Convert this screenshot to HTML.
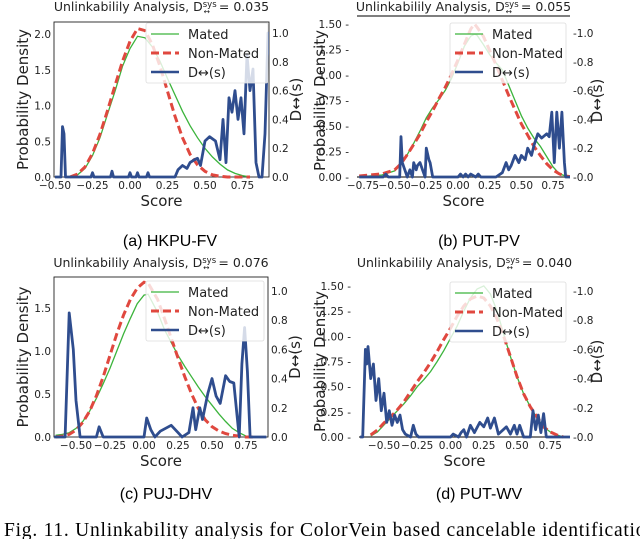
<!DOCTYPE html>
<html><head><meta charset="utf-8"><style>
html,body{margin:0;padding:0;background:#fff;}
svg{display:block;}
text{font-family:"DejaVu Sans","Liberation Sans",sans-serif;}
</style></head><body>
<svg id="fig" width="640" height="539" viewBox="0 0 640 539" xmlns="http://www.w3.org/2000/svg"></svg>
<script>
// ---------- Panel A: HKPU-FV ----------
const aDensX = [-0.4,-0.35,-0.3,-0.25,-0.2,-0.15,-0.1,-0.05,0,0.05,0.1,0.15,0.2,0.25,0.3,0.35,0.4,0.45,0.5,0.55,0.6,0.65,0.7,0.75,0.8];
const aMated = [0,0.03,0.12,0.3,0.55,0.88,1.2,1.55,1.8,1.97,1.95,1.82,1.62,1.38,1.15,0.92,0.72,0.55,0.4,0.28,0.18,0.1,0.05,0.02,0];
const aNonMated = [0,0.04,0.14,0.33,0.6,0.93,1.28,1.62,1.9,2.08,2.05,1.85,1.55,1.2,0.85,0.55,0.32,0.17,0.08,0.03,0.01,0,0,0,0];
const aDX = [-0.5,-0.46,-0.45,-0.44,-0.43,-0.26,-0.25,-0.24,-0.13,-0.12,-0.11,-0.01,0,0.01,0.04,0.05,0.06,0.11,0.12,0.13,0.3,0.32,0.35,0.38,0.4,0.43,0.45,0.47,0.5,0.53,0.57,0.6,0.62,0.64,0.66,0.68,0.7,0.72,0.74,0.76,0.78,0.8,0.82,0.84,0.86,0.88,0.9,0.92,0.94,0.95];
const aDY = [0,0,0.35,0.3,0,0,0.03,0,0,0.04,0,0,0.03,0,0,0.03,0,0,0.03,0,0,0.05,0.08,0.06,0.1,0.12,0.13,0.08,0.25,0.28,0.25,0.12,0.4,0.1,0.55,0.45,0.6,0.4,0.55,0.3,0.85,0.6,0.75,0.1,0,0,0.3,1.0,0.8,0];
const aXTicks = [-0.5,-0.25,0,0.25,0.5,0.75];
const aXTickLabels = ["−0.50","−0.25","0.00","0.25","0.50","0.75"];
const aYTicks = [0,0.5,1.0,1.5,2.0];
const aYTickLabels = ["0.0","0.5","1.0","1.5","2.0"];
const aRTicks = [0,0.2,0.4,0.6,0.8,1.0];
const aRTickLabels = ["0.0","0.2","0.4","0.6","0.8","1.0"];

// ---------- Panel B: PUT-PV ----------
const bDensX = [-0.78,-0.7,-0.6,-0.5,-0.45,-0.4,-0.35,-0.3,-0.25,-0.2,-0.15,-0.1,-0.05,0,0.05,0.1,0.13,0.15,0.2,0.25,0.3,0.35,0.4,0.45,0.5,0.55,0.6,0.65,0.7,0.75,0.8,0.85,0.9];
const bMated = [0,0.01,0.02,0.06,0.12,0.22,0.33,0.45,0.58,0.68,0.76,0.85,0.97,1.12,1.28,1.38,1.4,1.39,1.3,1.2,1.12,1.05,0.9,0.75,0.6,0.48,0.38,0.3,0.2,0.1,0.03,0.01,0];
const bNonMated = [0.01,0.02,0.03,0.07,0.13,0.22,0.32,0.42,0.54,0.65,0.77,0.88,1.01,1.15,1.3,1.45,1.5,1.47,1.38,1.24,1.1,0.95,0.8,0.66,0.52,0.41,0.3,0.21,0.13,0.07,0.03,0.01,0];
const bDX = [-0.78,-0.59,-0.57,-0.55,-0.46,-0.45,-0.44,-0.42,-0.4,-0.38,-0.36,-0.35,-0.33,-0.32,-0.3,-0.28,-0.26,-0.25,-0.23,-0.22,-0.2,0,0.02,0.04,0.06,0.08,0.1,0.14,0.16,0.18,0.3,0.35,0.38,0.4,0.42,0.45,0.48,0.5,0.53,0.55,0.58,0.6,0.63,0.66,0.7,0.72,0.74,0.76,0.78,0.8,0.82,0.84,0.85,0.9];
const bDY = [0,0,0.02,0,0,0.28,0.1,0.05,0,0.05,0,0.1,0.05,0.08,0.1,0.05,0,0.2,0.12,0.1,0,0,0.02,0,0.02,0,0.02,0,0.02,0,0,0.03,0.1,0.05,0.08,0.15,0.1,0.15,0.12,0.2,0.15,0.22,0.3,0.27,0.3,0.28,0.45,0.1,0.45,0.2,0.45,0.1,0,0];
const bXTicks = [-0.75,-0.5,-0.25,0,0.25,0.5,0.75];
const bXTickLabels = ["−0.75","−0.50","−0.25","0.00","0.25","0.50","0.75"];
const bYTicks = [0,0.25,0.5,0.75,1.0,1.25,1.5];
const bYTickLabels = ["0.00","0.25","0.50","0.75","1.00","1.25","1.50"];
const bRTicks = [0,0.2,0.4,0.6,0.8,1.0];
const bRTickLabels = ["0.0","0.2","0.4","0.6","0.8","1.0"];

// ---------- Panel C: PUJ-DHV ----------
const cDensX = [-0.65,-0.6,-0.55,-0.5,-0.45,-0.4,-0.35,-0.3,-0.25,-0.2,-0.15,-0.1,-0.05,0,0.03,0.1,0.15,0.2,0.25,0.3,0.35,0.4,0.45,0.5,0.55,0.6,0.65,0.7,0.75,0.8];
const cMated = [0.02,0.03,0.05,0.1,0.18,0.3,0.45,0.62,0.8,1.0,1.2,1.38,1.55,1.65,1.66,1.45,1.25,1.1,0.95,0.82,0.7,0.58,0.47,0.37,0.27,0.18,0.1,0.05,0.01,0];
const cNonMated = [0,0.01,0.03,0.08,0.17,0.3,0.48,0.7,0.95,1.2,1.42,1.6,1.73,1.8,1.79,1.6,1.38,1.15,0.92,0.7,0.5,0.33,0.2,0.12,0.07,0.04,0.02,0.01,0,0];
const cDX = [-0.66,-0.58,-0.55,-0.52,-0.5,-0.47,-0.35,-0.33,-0.3,0,0.02,0.05,0.08,0.12,0.2,0.25,0.28,0.33,0.36,0.38,0.41,0.43,0.47,0.5,0.53,0.56,0.6,0.63,0.66,0.7,0.72,0.74,0.76,0.78,0.9];
const cDY = [0,0,0.85,0.6,0.25,0,0,0.07,0,0,0.13,0.05,0,0.04,0.08,0.03,0,0.03,0.2,0.05,0.2,0.12,0.3,0.4,0.28,0.23,0.42,0.38,0.37,0,0.5,0.75,0.45,0,0];
const cXTicks = [-0.5,-0.25,0,0.25,0.5,0.75];
const cXTickLabels = ["−0.50","−0.25","0.00","0.25","0.50","0.75"];
const cYTicks = [0,0.5,1.0,1.5];
const cYTickLabels = ["0.0","0.5","1.0","1.5"];
const cRTicks = [0,0.2,0.4,0.6,0.8,1.0];
const cRTickLabels = ["0.0","0.2","0.4","0.6","0.8","1.0"];

// ---------- Panel D: PUT-WV ----------
const dDensX = [-0.6,-0.55,-0.5,-0.45,-0.4,-0.35,-0.3,-0.25,-0.2,-0.15,-0.1,-0.05,0,0.05,0.1,0.15,0.2,0.25,0.3,0.35,0.4,0.45,0.5,0.55,0.6,0.65,0.7,0.75,0.8,0.85];
const dMated = [0.01,0.05,0.12,0.19,0.26,0.33,0.41,0.5,0.57,0.65,0.75,0.86,0.98,1.1,1.25,1.38,1.47,1.5,1.42,1.25,1.02,0.8,0.6,0.43,0.3,0.19,0.1,0.05,0.02,0];
const dNonMated = [0.02,0.07,0.14,0.2,0.27,0.35,0.45,0.55,0.64,0.74,0.85,0.97,1.08,1.2,1.3,1.37,1.4,1.38,1.3,1.17,1.0,0.8,0.6,0.43,0.3,0.2,0.1,0.05,0.02,0];
const dDX = [-0.68,-0.66,-0.64,-0.63,-0.62,-0.6,-0.58,-0.56,-0.54,-0.52,-0.5,-0.48,-0.46,-0.44,-0.42,-0.4,-0.38,-0.36,-0.34,-0.3,-0.28,-0.26,-0.24,0,0.02,0.06,0.08,0.1,0.12,0.15,0.18,0.22,0.25,0.28,0.3,0.33,0.36,0.42,0.45,0.48,0.5,0.52,0.55,0.6,0.62,0.64,0.66,0.68,0.7,0.72,0.9];
const dDY = [0,0,0.6,0.5,0.62,0.4,0.5,0.25,0.4,0.18,0.3,0.1,0.18,0.08,0.15,0.1,0.15,0.05,0.02,0,0.08,0.02,0,0,0.02,0,0.03,0.05,0,0.08,0.03,0.1,0.07,0.13,0.06,0.13,0.02,0.07,0.02,0.08,0.02,0.08,0,0,0.18,0.05,0.15,0.03,0.16,0,0];
const dXTicks = [-0.5,-0.25,0,0.25,0.5,0.75];
const dXTickLabels = ["−0.50","−0.25","0.00","0.25","0.50","0.75"];
const dYTicks = [0,0.25,0.5,0.75,1.0,1.25,1.5];
const dYTickLabels = ["0.00","0.25","0.50","0.75","1.00","1.25","1.50"];
const dRTicks = [0,0.2,0.4,0.6,0.8,1.0];
const dRTickLabels = ["0.0","0.2","0.4","0.6","0.8","1.0"];

const NS = "http://www.w3.org/2000/svg";
const svg = document.getElementById('fig');
function mk(tag, attrs, parent){
  const e = document.createElementNS(NS, tag);
  for (const k in attrs) e.setAttribute(k, attrs[k]);
  (parent||svg).appendChild(e);
  return e;
}

function panel(cfg){
  const g = mk('g', {});
  
  
  const X = s => cfg.x0 + cfg.xs * s;
  const YL = v => cfg.yb - cfg.yls * v;
  const YR = v => cfg.yb - cfg.yrs * v;
  const clipId = 'clip-' + cfg.name;
  const cp = mk('clipPath', {id: clipId}, g);
  mk('rect', {x: cfg.L, y: cfg.T - 6, width: cfg.R - cfg.L, height: cfg.yb - cfg.T + 8}, cp);

  const t = mk('text', {x: (cfg.L + cfg.R) / 2, y: cfg.titleY, 'text-anchor': 'middle', 'font-size': 12.5, fill: '#222'}, g);
  
  
  t.textContent = 'Unlinkabilily Analysis, D';
  const sp = mk('tspan', {'font-size': 8.5, dy: -4}, t); sp.textContent = 'sys';
  const sb = mk('tspan', {'font-size': 7.5, dx: -13, dy: 7}, t); sb.textContent = '↔';
  const rest = mk('tspan', {dx: 5, dy: -3}, t); rest.textContent = ' = ' + cfg.val;

  if (cfg.box){
    const r = mk('rect', {x: cfg.L, y: cfg.T, width: cfg.R - cfg.L, height: cfg.yb - cfg.T, fill: 'none', stroke: '#222', 'stroke-width': 0.9}, g);
    
    
  } else {
    const l = mk('line', {x1: cfg.L, x2: cfg.R, y1: cfg.yb, y2: cfg.yb, stroke: '#333', 'stroke-width': 1.2}, g);
    
    
    if (cfg.topLine){
      const tl = mk('line', {x1: cfg.L, x2: cfg.R, y1: cfg.topLine, y2: cfg.topLine, stroke: '#333', 'stroke-width': 1.2}, g);
      
      
    }
  }

  cfg.xt.forEach((v, i) => {
    const tx = mk('text', {x: X(v), y: cfg.yb + 12, 'text-anchor': 'middle', 'font-size': 10.5, fill: '#222'}, g);
    
    
    tx.textContent = cfg.xl[i];
  });
  cfg.yt.forEach((v, i) => {
    const ty = mk('text', {x: cfg.L - (cfg.box ? 3 : 8), y: YL(v) + 4, 'text-anchor': 'end', 'font-size': 10.5, fill: '#222'}, g);
    
    
    ty.textContent = cfg.yl[i] + (cfg.box ? '' : ' -');
  });
  cfg.rt.forEach((v, i) => {
    const ty = mk('text', {x: cfg.R + 3, y: YR(v) + 4, 'text-anchor': 'start', 'font-size': 10.5, fill: '#222'}, g);
    
    
    ty.textContent = (cfg.box ? '' : '-') + cfg.rl[i];
  });
  const xl = mk('text', {x: (cfg.L + cfg.R) / 2, y: cfg.yb + 29, 'text-anchor': 'middle', 'font-size': 15, fill: '#222'}, g);
  
  
  xl.textContent = 'Score';
  const ylx = cfg.ylabX, yly = (cfg.T + cfg.yb) / 2;
  const yl = mk('text', {x: ylx, y: yly, 'text-anchor': 'middle', 'font-size': 15, fill: '#222', transform: `rotate(-90 ${ylx} ${yly})`}, g);
  
  
  yl.textContent = 'Probability Density';
  const rlx = cfg.R + 32;
  const rl = mk('text', {x: rlx, y: yly, 'text-anchor': 'middle', 'font-size': 15, fill: '#222', transform: `rotate(-90 ${rlx} ${yly})`}, g);
  
  
  rl.textContent = 'D↔(s)';

  const pts = (xs, ys, Y) => xs.map((x, i) => X(x).toFixed(1) + ',' + Y(ys[i]).toFixed(1)).join(' ');
  const gr = mk('polyline', {points: pts(cfg.dx, cfg.mated, YL), fill: 'none', stroke: '#3cb43c', 'stroke-width': 1.3, 'clip-path': `url(#${clipId})`}, g);
  
  
  const rd = mk('polyline', {points: pts(cfg.dx, cfg.non, YL), fill: 'none', stroke: '#e0483f', 'stroke-width': 3, 'stroke-dasharray': '8,4', 'clip-path': `url(#${clipId})`}, g);
  
  
  const bl = mk('polyline', {points: pts(cfg.bx, cfg.by, YR), fill: 'none', stroke: '#2f4d8e', 'stroke-width': 2.8, 'stroke-linejoin': 'round', 'clip-path': `url(#${clipId})`}, g);
  
  

  const lg = mk('g', {}, g);
  
  
  mk('rect', {x: cfg.lgX, y: cfg.lgY, width: cfg.lgW, height: 60, rx: 2, fill: 'rgba(255,255,255,0.8)', stroke: '#ddd', 'stroke-width': 0.8}, lg);
  const items = [['Mated', '#3cb43c', 1.3, ''], ['Non-Mated', '#e0483f', 3, '8,4'], ['D↔(s)', '#2f4d8e', 2.6, '']];
  items.forEach((it, i) => {
    const yy = cfg.lgY + 11 + i * 19;
    const ln = mk('line', {x1: cfg.lgX + 5, x2: cfg.lgX + 33, y1: yy, y2: yy, stroke: it[1], 'stroke-width': it[2], 'stroke-dasharray': it[3] || 'none'}, lg);
    
    
    const tt = mk('text', {x: cfg.lgX + 42, y: yy + 5, 'font-size': 13, fill: '#222'}, lg);
    
    
    tt.textContent = it[0];
  });
}

panel({name:'panel-a', val:'0.035', box:true, L:54, R:269, T:22, yb:177, x0:130, xs:150, yls:71.4, yrs:144,
  titleY:11, ylabX:28, xt:aXTicks, xl:aXTickLabels, yt:aYTicks, yl:aYTickLabels, rt:aRTicks, rl:aRTickLabels,
  dx:aDensX, mated:aMated, non:aNonMated, bx:aDX, by:aDY, lgX:146, lgY:23, lgW:122});
panel({name:'panel-b', val:'0.055', box:false, topLine:16, L:357, R:570, T:24, yb:177, x0:458, xs:126.7, yls:102, yrs:144,
  titleY:11, ylabX:325, xt:bXTicks, xl:bXTickLabels, yt:bYTicks, yl:bYTickLabels, rt:bRTicks, rl:bRTickLabels,
  dx:bDensX, mated:bMated, non:bNonMated, bx:bDX, by:bDY, lgX:450, lgY:23, lgW:116});
panel({name:'panel-c', val:'0.076', box:true, L:54, R:268, T:277, yb:437, x0:144, xs:136, yls:86, yrs:146,
  titleY:267, ylabX:28, xt:cXTicks, xl:cXTickLabels, yt:cYTicks, yl:cYTickLabels, rt:cRTicks, rl:cRTickLabels,
  dx:cDensX, mated:cMated, non:cNonMated, bx:cDX, by:cDY, lgX:146, lgY:281, lgW:118});
panel({name:'panel-d', val:'0.040', box:false, L:359, R:570, T:286, yb:437, x0:450.5, xs:133, yls:100.7, yrs:146,
  titleY:267, ylabX:325, xt:dXTicks, xl:dXTickLabels, yt:dYTicks, yl:dYTickLabels, rt:dRTicks, rl:dRTickLabels,
  dx:dDensX, mated:dMated, non:dNonMated, bx:dDX, by:dDY, lgX:450, lgY:282, lgW:116});
</script>
<svg style="position:absolute;left:0;top:0" width="640" height="539">
  <text x="170" y="246" text-anchor="middle" font-size="16" style="font-family:'Liberation Sans',sans-serif">(a) HKPU-FV</text>
  <text x="479" y="246" text-anchor="middle" font-size="16" style="font-family:'Liberation Sans',sans-serif">(b) PUT-PV</text>
  <text x="166" y="499" text-anchor="middle" font-size="16" style="font-family:'Liberation Sans',sans-serif">(c) PUJ-DHV</text>
  <text x="479" y="499" text-anchor="middle" font-size="16" style="font-family:'Liberation Sans',sans-serif">(d) PUT-WV</text>
  <text x="4" y="536" font-size="19.5" textLength="652" lengthAdjust="spacing" style="font-family:'Liberation Serif',serif">Fig. 11.  Unlinkability analysis for ColorVein based cancelable identification</text>
</svg>
</body></html>
